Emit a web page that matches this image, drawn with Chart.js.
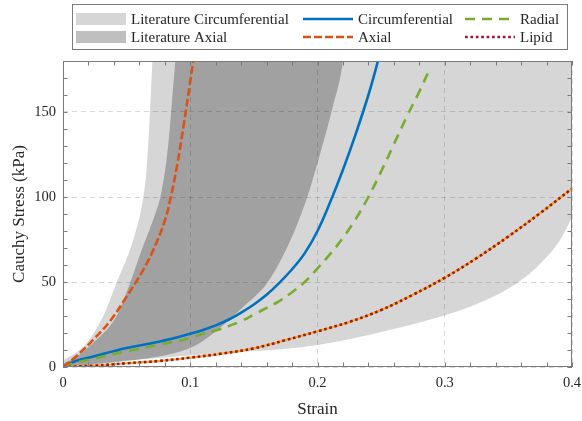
<!DOCTYPE html>
<html>
<head>
<meta charset="utf-8">
<script src="https://cdn.jsdelivr.net/npm/chart.js@4.4.1/dist/chart.umd.min.js"></script>
<style>
  html, body { margin: 0; padding: 0; background: #fff; }
</style>
</head>
<body>
<canvas id="chart" width="582" height="421"></canvas>
<script>
// Model curves: strain vs Cauchy stress (kPa)
const circStrain = [0, 0.01, 0.0237, 0.05, 0.0763, 0.1, 0.11, 0.12, 0.13, 0.14, 0.15, 0.16, 0.17, 0.18, 0.19, 0.2, 0.21, 0.22, 0.23, 0.24, 0.2475, 0.25];
const circStress = [0, 3.5, 6.2, 11.2, 15, 19.5, 21.8, 24.5, 27.8, 32, 36.8, 42.5, 49.5, 57.5, 67, 80, 97, 116, 137, 160, 180, 188];

const axialStrain = [0, 0.01, 0.0237, 0.037, 0.05, 0.063, 0.071, 0.08, 0.085, 0.09, 0.095, 0.1, 0.103];
const axialStress = [0, 6, 16, 27, 41.5, 57, 69, 86, 101, 120, 143, 168, 183];

const radialStrain = [0, 0.01, 0.025, 0.05, 0.075, 0.1, 0.11, 0.12, 0.13, 0.14, 0.15, 0.16, 0.17, 0.18, 0.19, 0.2, 0.21, 0.22, 0.23, 0.24, 0.25, 0.26, 0.27, 0.28, 0.288];
const radialStress = [0, 2.5, 5, 9.2, 13, 17, 19.5, 21.5, 24, 27, 30.8, 34.8, 38.8, 44, 50, 58, 66.5, 76, 87, 100, 115, 131, 147, 162, 175];

const lipidStrain = [0, 0.025, 0.05, 0.075, 0.1, 0.125, 0.15, 0.175, 0.2, 0.225, 0.25, 0.275, 0.3, 0.325, 0.35, 0.375, 0.4];
const lipidStress = [0, 0.8, 2.2, 3.5, 5.5, 7.9, 11, 15.8, 21, 26.5, 33.5, 42.5, 52.5, 64, 76.8, 90.5, 105];

// Literature ranges (upper and lower envelopes)
const litCircUpperStrain = [0, 0.005, 0.0185, 0.0316, 0.042, 0.0526, 0.058, 0.0625, 0.0655, 0.0675, 0.069, 0.0702, 0.0715, 0.4];
const litCircUpperStress = [4, 6, 14, 29.8, 49.4, 69, 82, 97, 115, 138, 160, 180, 210, 210];
const litCircLowerStrain = [0, 0.02, 0.05, 0.1, 0.147, 0.1737, 0.2013, 0.226, 0.2526, 0.279, 0.3, 0.32, 0.34, 0.36, 0.376, 0.39, 0.4];
const litCircLowerStress = [0, 1.5, 3.8, 6.8, 9.2, 10.6, 13.1, 16.5, 21, 25.9, 30.5, 35.5, 42, 51, 61.5, 74, 88];

const litAxUpperStrain = [0, 0.0105, 0.0263, 0.042, 0.0527, 0.0619, 0.067, 0.072, 0.0765, 0.0805, 0.0835, 0.0858, 0.0882, 0.0905, 0.23];
const litAxUpperStress = [2, 6, 16, 29.8, 49.4, 69, 79, 89, 100, 117, 137, 158, 180, 210, 210];
const litAxLowerStrain = [0, 0.02, 0.05, 0.084, 0.1026, 0.116, 0.125, 0.142, 0.1605, 0.179, 0.192, 0.203, 0.212, 0.22, 0.224, 0.23];
const litAxLowerStress = [0, 1, 3.5, 7.5, 12, 18.5, 24, 35.6, 49.4, 75, 100, 128, 153, 180, 210, 210];

const strainTicks = [0, 0.1, 0.2, 0.3, 0.4];
const stressTicks = [0, 50, 100, 150];

const pts = (xs, ys) => xs.map((x, i) => ({x: x, y: ys[i]}));

const SERIF = '"Liberation Serif", "Times New Roman", serif';
const TEXT = '#262626';
const FRAME = '#7a7a7a';

const curve = (label, xs, ys, color, dash, order) => ({
  label: label,
  data: pts(xs, ys),
  borderColor: color,
  borderWidth: 2.6,
  borderDash: dash,
  pointRadius: 0,
  fill: false,
  tension: 0.4,
  order: order
});

const envelope = (label, xs, ys, color, fill, order) => ({
  label: label,
  data: pts(xs, ys),
  borderColor: 'rgba(0,0,0,0)',
  borderWidth: 0,
  backgroundColor: color,
  pointRadius: 0,
  fill: fill,
  cubicInterpolationMode: 'monotone',
  order: order
});

// inward ticks on all four sides plus the axes box
const boxTicks = {
  id: 'boxTicks',
  afterDatasetsDraw(chart, args, opts) {
    const {ctx, chartArea: a, scales: {x, y}} = chart;
    const len = opts.length;
    ctx.save();
    ctx.strokeStyle = opts.color;
    ctx.lineWidth = 1;
    ctx.beginPath();
    for (let i = 0; i <= 20; i++) {
      const px = Math.round(x.getPixelForValue(i * 0.02)) + 0.5;
      ctx.moveTo(px, a.bottom); ctx.lineTo(px, a.bottom - len);
      ctx.moveTo(px, a.top); ctx.lineTo(px, a.top + len);
    }
    for (let i = 0; i <= 18; i++) {
      const py = Math.round(y.getPixelForValue(i * 10)) + 0.5;
      ctx.moveTo(a.left, py); ctx.lineTo(a.left + len, py);
      ctx.moveTo(a.right, py); ctx.lineTo(a.right - len, py);
    }
    ctx.stroke();
    ctx.strokeRect(Math.round(a.left) + 0.5, Math.round(a.top) + 0.5,
      Math.round(a.right - a.left) - 1, Math.round(a.bottom - a.top) - 1);
    ctx.restore();
  }
};

// three-column legend above the plot
const gridLegend = {
  id: 'gridLegend',
  afterDraw(chart, args, opts) {
    const {ctx} = chart;
    const sets = chart.data.datasets;
    ctx.save();
    ctx.fillStyle = '#fff';
    ctx.fillRect(opts.box[0], opts.box[1], opts.box[2], opts.box[3]);
    ctx.strokeStyle = FRAME;
    ctx.lineWidth = 1;
    ctx.strokeRect(opts.box[0] + 0.5, opts.box[1] + 0.5, opts.box[2], opts.box[3]);
    ctx.font = '15px ' + SERIF;
    ctx.textBaseline = 'middle';
    opts.columns.forEach((col, c) => {
      col.forEach((label, r) => {
        const ds = sets.find(d => d.label === label);
        const sx = opts.colX[c];
        const cy = opts.rowY[r];
        if (ds.fill) {
          ctx.fillStyle = ds.backgroundColor;
          ctx.fillRect(sx, cy - 6, opts.swatch, 12);
        } else {
          ctx.strokeStyle = ds.borderColor;
          ctx.lineWidth = ds.borderWidth;
          ctx.setLineDash(ds.borderDash || []);
          ctx.beginPath();
          ctx.moveTo(sx, cy);
          ctx.lineTo(sx + opts.swatch, cy);
          ctx.stroke();
          ctx.setLineDash([]);
        }
        ctx.fillStyle = TEXT;
        ctx.fillText(label, sx + opts.swatch + 5, cy + 1);
      });
    });
    ctx.restore();
  }
};

new Chart(document.getElementById('chart'), {
  type: 'line',
  data: {
    datasets: [
      curve('Lipid', lipidStrain, lipidStress, '#A2142F', [2.7, 2.7], 1),
      Object.assign(curve('', lipidStrain, lipidStress, '#EDB120', [], 2), {borderWidth: 2.2}),
      curve('Axial', axialStrain, axialStress, '#D95319', [8, 3], 3),
      curve('Radial', radialStrain, radialStress, '#77AC30', [10, 7], 4),
      curve('Circumferential', circStrain, circStress, '#0072BD', [], 5),
      envelope('Literature Axial', litAxUpperStrain, litAxUpperStress, 'rgba(0,0,0,0.25)', '+1', 6),
      envelope('litAxLower', litAxLowerStrain, litAxLowerStress, 'rgba(0,0,0,0)', false, 7),
      envelope('Literature Circumferential', litCircUpperStrain, litCircUpperStress, 'rgba(0,0,0,0.16)', '+1', 8),
      envelope('litCircLower', litCircLowerStrain, litCircLowerStress, 'rgba(0,0,0,0)', false, 9)
    ]
  },
  options: {
    responsive: false,
    animation: false,
    layout: {padding: {top: 61, right: 10, left: 0, bottom: 0}},
    plugins: {
      legend: {display: false},
      tooltip: {enabled: false},
      boxTicks: {length: 4.5, color: FRAME},
      gridLegend: {
        box: [72, 4, 495, 45],
        colX: [76, 303, 465],
        rowY: [19, 37],
        swatch: 50,
        columns: [
          ['Literature Circumferential', 'Literature Axial'],
          ['Circumferential', 'Axial'],
          ['Radial', 'Lipid']
        ]
      }
    },
    scales: {
      x: {
        type: 'linear',
        min: 0,
        max: 0.4,
        afterFit: s => { s.height = 54; s.paddingLeft = 0; s.paddingRight = 0; },
        afterBuildTicks: s => { s.ticks = strainTicks.map(v => ({value: v})); },
        ticks: {
          padding: 7,
          color: TEXT,
          font: {family: SERIF, size: 14.5},
          maxRotation: 0,
          callback: v => (v === 0 ? '0' : v.toFixed(1))
        },
        grid: {color: 'rgba(0,0,0,0.15)', drawTicks: false, lineWidth: 1},
        border: {display: false, dash: [5, 4]},
        title: {
          display: true,
          text: 'Strain',
          color: TEXT,
          font: {family: SERIF, size: 17},
          padding: {top: 0, bottom: 1}
        }
      },
      y: {
        type: 'linear',
        min: 0,
        max: 180,
        afterFit: s => { s.width = 63; s.paddingTop = 0; s.paddingBottom = 0; },
        afterBuildTicks: s => { s.ticks = stressTicks.map(v => ({value: v})); },
        ticks: {
          padding: 7,
          color: TEXT,
          font: {family: SERIF, size: 14.5}
        },
        grid: {color: 'rgba(0,0,0,0.15)', drawTicks: false, lineWidth: 1},
        border: {display: false, dash: [5, 4]},
        title: {
          display: true,
          text: 'Cauchy Stress (kPa)',
          color: TEXT,
          font: {family: SERIF, size: 17},
          padding: {top: 9, bottom: 0}
        }
      }
    }
  },
  plugins: [boxTicks, gridLegend]
});
</script>
</body>
</html>
